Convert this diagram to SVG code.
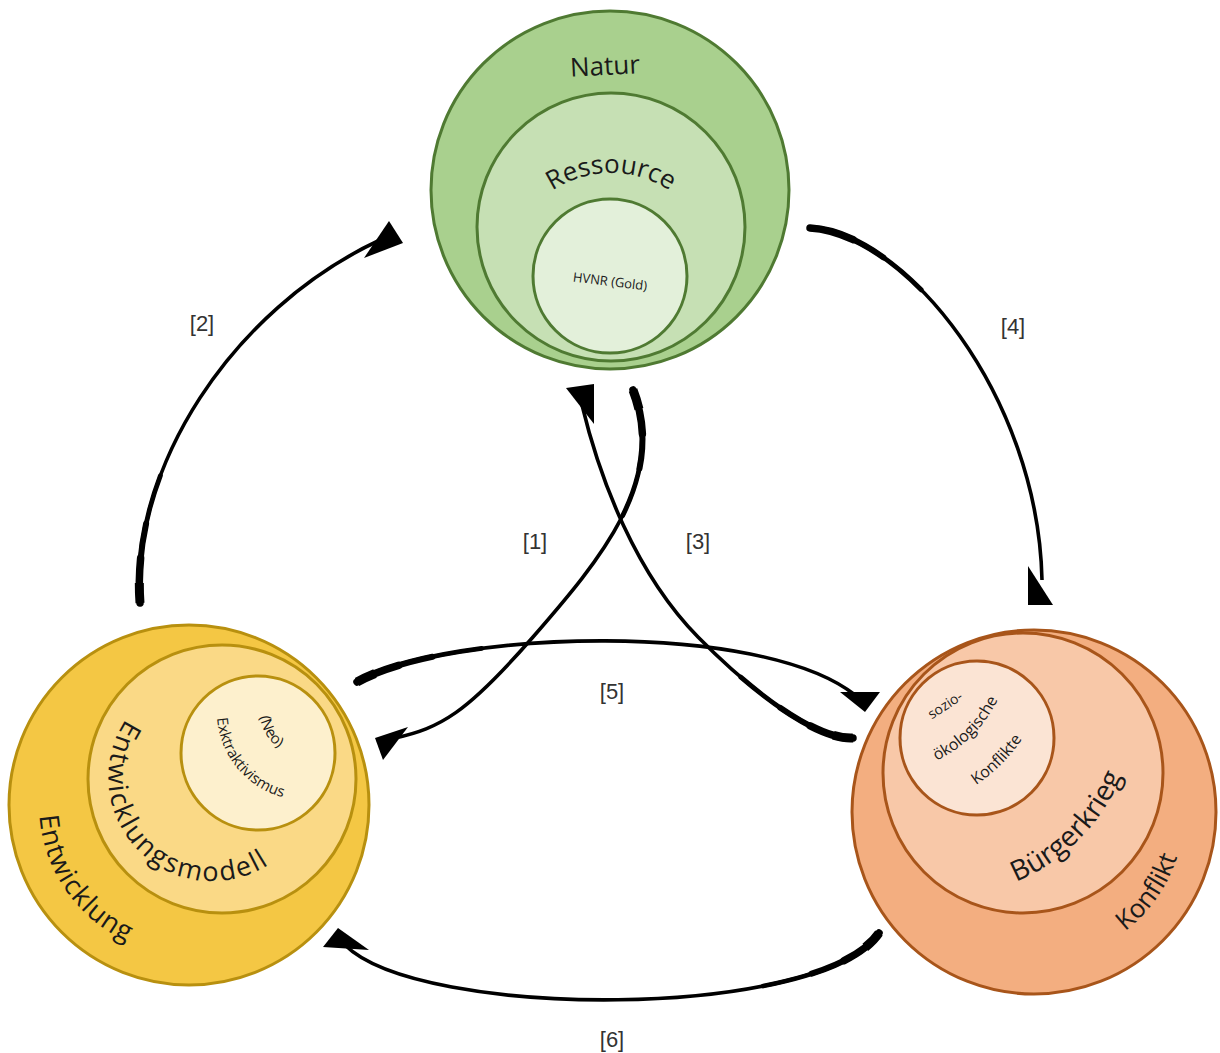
<svg xmlns="http://www.w3.org/2000/svg" width="1220" height="1053" viewBox="0 0 1220 1053">
<style>
.txt{font-family:"Open Sans","Noto Sans","DejaVu Sans",sans-serif;fill:#1a1a1a}
.lbl{font-family:"Liberation Sans","Arial",sans-serif;font-size:22px;fill:#333;text-anchor:middle}
.g1{fill:#a9d08e;stroke:#4f7a32;stroke-width:3}
.g2{fill:#c6e0b4;stroke:#4f7a32;stroke-width:3}
.g3{fill:#e3f0da;stroke:#4f7a32;stroke-width:3}
.y1{fill:#f4c744;stroke:#b8900f;stroke-width:3}
.y2{fill:#fad986;stroke:#b8900f;stroke-width:3}
.y3{fill:#fdf0cd;stroke:#b8900f;stroke-width:3}
.o1{fill:#f3ae80;stroke:#a8551a;stroke-width:3}
.o2{fill:#f8c8a8;stroke:#a8551a;stroke-width:3}
.o3{fill:#fbe4d4;stroke:#a8551a;stroke-width:3}
.base{fill:none;stroke:#000;stroke-width:3.6}
.t1{fill:none;stroke:#000;stroke-width:4.8;stroke-dasharray:130 3000;stroke-linecap:round}
.t2{fill:none;stroke:#000;stroke-width:6;stroke-dasharray:80 3000;stroke-linecap:round}
.t3{fill:none;stroke:#000;stroke-width:7.5;stroke-dasharray:45 3000;stroke-linecap:round}
.t4{fill:none;stroke:#000;stroke-width:9;stroke-dasharray:20 3000}
.head{fill:#000}
</style>
<defs>
<path id="c1" d="M633,390 C668,480 600,560 533,637 S440,728 395,738"/>
<path id="c2" d="M140,603 C130,470 230,310 380,240"/>
<path id="c3" d="M853,738 C820,740 760,700 698,637 S600,480 582,405"/>
<path id="c4" d="M810,228 C905,233 1038,395 1042,580"/>
<path id="c5" d="M357,682 C450,630 760,620 855,695"/>
<path id="c6" d="M879,933 C820,1020 420,1020 345,945"/>
<path id="a-res" d="M504,280 A107,107 0 0,1 718,280"/>
<path id="a-ent" d="M44.1,766.2 A150,150 0 0,0 175.9,954.4"/>
<path id="a-mod" d="M132.8,710.2 A104,104 0 0,0 279.4,856.7"/>
<path id="a-exk" d="M217.2,718.1 A88,88 0 0,0 338.2,793.5"/>
<path id="a-neo" d="M264.5,692.5 A44,44 0 0,0 302,755.9"/>
<path id="a-kon" d="M1085.3,953 A150,150 0 0,0 1184,812"/>
<path id="a-bur" d="M974.2,894 A197,197 0 0,0 1134,734.2"/>
<path id="a-oko" d="M901.9,772 A132,132 0 0,0 1009,664.9"/>
<path id="a-kfl" d="M923.8,809.1 A173,173 0 0,0 1046.1,686.8"/>
</defs>
<rect width="1220" height="1053" fill="#ffffff"/>

<g id="natur">
<circle class="g1" cx="610" cy="190" r="179"/>
<circle class="g2" cx="611" cy="227" r="134"/>
<circle class="g3" cx="610" cy="276" r="77"/>
<text class="txt" x="605" y="75" font-size="26" text-anchor="middle" transform="rotate(-3 605 67)">Natur</text>
<text class="txt" font-size="26"><textPath href="#a-res" startOffset="50%" text-anchor="middle">Ressource</textPath></text>
<text class="txt" x="610" y="286" font-size="13" text-anchor="middle" transform="rotate(7 610 282)">HVNR (Gold)</text>
</g>

<g id="entwicklung">
<circle class="y1" cx="189" cy="805" r="180"/>
<circle class="y2" cx="222" cy="779" r="134"/>
<circle class="y3" cx="258" cy="753" r="77"/>
<text class="txt" font-size="27" letter-spacing="1"><textPath href="#a-ent" startOffset="50%" text-anchor="middle">Entwicklung</textPath></text>
<text class="txt" font-size="27" letter-spacing="2"><textPath href="#a-mod" startOffset="50%" text-anchor="middle">Entwicklungsmodell</textPath></text>
<text class="txt" font-size="15"><textPath href="#a-neo" startOffset="50%" text-anchor="middle">(Neo)</textPath></text>
<text class="txt" font-size="15"><textPath href="#a-exk" startOffset="0">Exktraktivismus</textPath></text>
</g>

<g id="konflikt">
<circle class="o1" cx="1034" cy="812" r="182"/>
<circle class="o2" cx="1023" cy="773" r="140"/>
<circle class="o3" cx="977" cy="738" r="77"/>
<text class="txt" font-size="26"><textPath href="#a-kon" startOffset="50%" text-anchor="middle">Konflikt</textPath></text>
<text class="txt" font-size="28"><textPath href="#a-bur" startOffset="50%" text-anchor="middle">Bürgerkrieg</textPath></text>
<text class="txt" x="945" y="710" font-size="14" text-anchor="middle" transform="rotate(-33 945 705)">sozio-</text>
<text class="txt" font-size="16"><textPath href="#a-oko" startOffset="50%" text-anchor="middle">ökologische</textPath></text>
<text class="txt" font-size="16"><textPath href="#a-kfl" startOffset="50%" text-anchor="middle">Konflikte</textPath></text>
</g>

<g id="connectors">
<g id="conn1">
<use href="#c1" class="base"/><use href="#c1" class="t1"/><use href="#c1" class="t2"/><use href="#c1" class="t3"/><use href="#c1" class="t4"/>
<polygon class="head" points="375,738 408,727 383,760"/>
</g>
<g id="conn2">
<use href="#c2" class="base"/><use href="#c2" class="t1"/><use href="#c2" class="t2"/><use href="#c2" class="t3"/><use href="#c2" class="t4"/>
<polygon class="head" points="389,221 403,243 364,258"/>
</g>
<g id="conn3">
<use href="#c3" class="base"/><use href="#c3" class="t1"/><use href="#c3" class="t2"/><use href="#c3" class="t3"/><use href="#c3" class="t4"/>
<polygon class="head" points="566,388 594,384 594,424"/>
</g>
<g id="conn4">
<use href="#c4" class="base"/><use href="#c4" class="t1"/><use href="#c4" class="t2"/><use href="#c4" class="t3"/>
<polygon class="head" points="1028,566 1028,605 1053,605"/>
</g>
<g id="conn5">
<use href="#c5" class="base"/><use href="#c5" class="t1"/><use href="#c5" class="t2"/><use href="#c5" class="t3"/><use href="#c5" class="t4"/>
<polygon class="head" points="840,692 880,692 865,712"/>
</g>
<g id="conn6">
<use href="#c6" class="base"/><use href="#c6" class="t1"/><use href="#c6" class="t2"/><use href="#c6" class="t3"/><use href="#c6" class="t4"/>
<polygon class="head" points="323,947 338,928 369,950"/>
</g>
<text class="lbl" x="535" y="549">[1]</text>
<text class="lbl" x="202" y="331">[2]</text>
<text class="lbl" x="698" y="549">[3]</text>
<text class="lbl" x="1013" y="334">[4]</text>
<text class="lbl" x="612" y="699">[5]</text>
<text class="lbl" x="612" y="1047">[6]</text>
</g>
</svg>
